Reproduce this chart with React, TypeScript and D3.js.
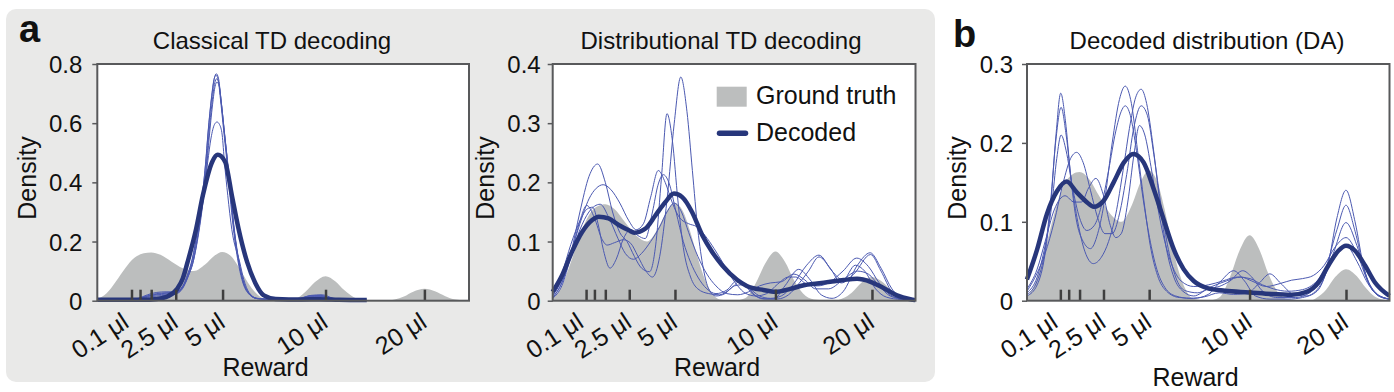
import React, { useRef, useEffect } from 'react'
import * as d3 from 'd3'

// reward sizes (μl) and where they sit on the decoder's utility axis (0-100)
const rewardTicks = [0.1, 0.3, 1.2, 2.5, 5, 10, 20]
const rewardUtility = [9.2, 11.5, 14.5, 21.1, 33.7, 61.4, 88.0]
const labelledRewards = [0.1, 2.5, 5, 10, 20]

const yTicksClassical = [0, 0.2, 0.4, 0.6, 0.8]
const yTicksDistributional = [0, 0.1, 0.2, 0.3, 0.4]
const yTicksDA = [0, 0.1, 0.2, 0.3]

// [utility, density]
const groundTruth = [
  [0, 0.005], [2.5, 0.025], [5, 0.065], [7.5, 0.11], [10, 0.145], [12.5, 0.16], [14.5, 0.163], [17, 0.155],
  [20, 0.132], [23, 0.11], [26, 0.1], [29, 0.122], [31.5, 0.152], [33.6, 0.165], [36, 0.15], [38, 0.115],
  [40, 0.072], [42, 0.035], [44, 0.012], [46, 0.002], [50, 0], [53, 0.004], [56, 0.03], [58.5, 0.062],
  [61.4, 0.083], [64, 0.066], [66.5, 0.035], [69, 0.012], [72, 0.002], [78, 0], [80, 0.004], [82.5, 0.014],
  [85, 0.03], [88, 0.04], [91, 0.031], [93.5, 0.016], [96, 0.005], [100, 0],
]

// classical TD decoding
const classicalMean = [
  [0, 0.003], [12, 0.003], [16, 0.006], [19, 0.015], [21.5, 0.04], [23, 0.075], [24.3, 0.131], [26.6, 0.243],
  [28.4, 0.356], [30.9, 0.469], [32.4, 0.493], [34.4, 0.469], [36.2, 0.356], [38, 0.243], [40.3, 0.131],
  [42.5, 0.06], [44.8, 0.018], [48, 0.006], [55, 0.004], [60, 0.005], [65, 0.003], [72.5, 0.002],
]
const classicalRun1 = [
  [0, 0.002], [8, 0.003], [11, 0.008], [13.5, 0.02], [16, 0.028], [18.5, 0.03], [21, 0.03], [23, 0.05],
  [24.3, 0.09], [25.5, 0.14], [27.1, 0.25], [28.3, 0.36], [29.2, 0.47], [29.9, 0.58], [30.8, 0.69], [31.5, 0.752],
  [32, 0.767], [32.6, 0.752], [33.2, 0.69], [34.1, 0.58], [35, 0.47], [35.8, 0.36], [36.7, 0.25], [38, 0.135],
  [39, 0.075], [40.5, 0.03], [43, 0.008], [48, 0.004], [54, 0.006], [57, 0.016], [60, 0.018], [63, 0.008],
  [67, 0.002], [72.5, 0.001],
]
const classicalRun2 = [
  [0, 0.002], [8, 0.003], [11, 0.007], [13.5, 0.017], [16, 0.024], [18.5, 0.027], [21, 0.028], [23, 0.048],
  [24.3, 0.085], [25.5, 0.135], [27, 0.24], [28.2, 0.35], [29.1, 0.46], [29.8, 0.57], [30.7, 0.685], [31.4, 0.748],
  [31.9, 0.762], [32.5, 0.748], [33.1, 0.685], [34, 0.575], [34.9, 0.465], [35.7, 0.355], [36.6, 0.245],
  [37.9, 0.13], [38.9, 0.072], [40.4, 0.028], [43, 0.007], [48, 0.004], [54, 0.007], [57.5, 0.018],
  [60.5, 0.02], [63.5, 0.008], [67, 0.002], [72.5, 0.001],
]
const classicalRun3 = [
  [0, 0.002], [8, 0.003], [11, 0.006], [13.5, 0.014], [16, 0.02], [18.5, 0.022], [21, 0.025], [23, 0.045],
  [24.3, 0.082], [25.6, 0.13], [27.2, 0.235], [28.4, 0.345], [29.3, 0.455], [30, 0.56], [30.9, 0.672],
  [31.6, 0.736], [32.1, 0.75], [32.7, 0.736], [33.3, 0.675], [34.2, 0.565], [35.1, 0.46], [35.9, 0.35],
  [36.8, 0.24], [38.1, 0.13], [39.1, 0.07], [40.6, 0.027], [43, 0.007], [48, 0.004], [54, 0.005],
  [57, 0.013], [60, 0.015], [63, 0.006], [67, 0.002], [72.5, 0.001],
]
const classicalRun4 = [
  [0, 0.002], [8, 0.003], [11, 0.005], [13.5, 0.011], [16, 0.016], [18.5, 0.018], [21, 0.022], [23, 0.042],
  [24.4, 0.08], [25.7, 0.128], [27.3, 0.23], [28.5, 0.34], [29.4, 0.448], [30.1, 0.55], [31, 0.662],
  [31.7, 0.725], [32.2, 0.739], [32.8, 0.725], [33.4, 0.665], [34.3, 0.558], [35.2, 0.452], [36, 0.345],
  [36.9, 0.238], [38.2, 0.128], [39.2, 0.07], [40.7, 0.027], [43, 0.007], [48, 0.004], [54, 0.005],
  [57.5, 0.012], [60.5, 0.014], [63.5, 0.006], [67, 0.002], [72.5, 0.001],
]
const classicalRun5 = [
  [0, 0.002], [8, 0.003], [11, 0.006], [13.5, 0.015], [16, 0.022], [18.5, 0.025], [21, 0.026], [23, 0.046],
  [24.5, 0.085], [25.8, 0.131], [27.2, 0.23], [28.6, 0.356], [29.7, 0.469], [30.6, 0.55], [31.5, 0.595],
  [32.2, 0.604], [32.9, 0.595], [33.6, 0.56], [34.2, 0.469], [35.1, 0.356], [36.2, 0.24], [38.3, 0.131],
  [39.4, 0.072], [40.8, 0.028], [43, 0.008], [48, 0.004], [54, 0.006], [57, 0.015], [60, 0.017],
  [63, 0.007], [67, 0.002], [72.5, 0.001],
]

// distributional TD decoding
const distributionalMean = [
  [0, 0.015], [2.6, 0.043], [5.3, 0.0825], [8.1, 0.116], [10.8, 0.136], [12.7, 0.142], [15.4, 0.139],
  [18.2, 0.128], [21, 0.119], [22.5, 0.115], [25.6, 0.122], [28.3, 0.144], [31.1, 0.167], [33.4, 0.181],
  [35.7, 0.175], [38.4, 0.15], [41.2, 0.111], [44, 0.082], [46.7, 0.06], [50.9, 0.035], [53.5, 0.025],
  [58.1, 0.018], [61.4, 0.015], [65.5, 0.02], [69.2, 0.026], [72.9, 0.029], [76.5, 0.032], [80.2, 0.035],
  [83.9, 0.037], [87.6, 0.032], [91.3, 0.021], [94.9, 0.009], [98.6, 0.0025], [100, 0.001],
]
const distributionalRun1 = [
  [0, 0.004], [2.5, 0.025], [5, 0.075], [7.5, 0.135], [9.4, 0.161], [11.5, 0.14], [13.5, 0.105], [15, 0.094],
  [17, 0.098], [19.5, 0.103], [21.5, 0.097], [23.5, 0.075], [25.5, 0.052], [27.5, 0.04], [29.5, 0.075],
  [31.5, 0.17], [33.5, 0.3], [35.3, 0.378], [37, 0.32], [38.5, 0.22], [40, 0.12], [41.5, 0.055], [43, 0.02],
  [45, 0.008], [47.5, 0.012], [50, 0.025], [52.5, 0.027], [55, 0.012], [58, 0.003], [61, 0.003], [64, 0.025],
  [67.8, 0.053], [71, 0.035], [74, 0.01], [77, 0.004], [80, 0.015], [84, 0.06], [87.5, 0.081], [90.5, 0.055],
  [93.5, 0.02], [96.5, 0.004], [100, 0.001],
]
const distributionalRun2 = [
  [0, 0.006], [2.5, 0.03], [5, 0.08], [7.5, 0.15], [10, 0.21], [12.4, 0.231], [14.5, 0.2], [16.5, 0.15],
  [18.5, 0.115], [20.5, 0.1], [22.5, 0.075], [24.5, 0.055], [26.7, 0.049], [28.5, 0.1], [30, 0.21],
  [31.5, 0.316], [33, 0.27], [34.5, 0.17], [36, 0.09], [38, 0.04], [40, 0.02], [43, 0.012], [46, 0.01],
  [49, 0.02], [51.5, 0.032], [54, 0.022], [57, 0.008], [60, 0.004], [63, 0.008], [66, 0.025], [70, 0.06],
  [73.4, 0.077], [77, 0.05], [80, 0.035], [83.4, 0.06], [86, 0.05], [89, 0.02], [92, 0.006], [96, 0.002],
  [100, 0.001],
]
const distributionalRun3 = [
  [0, 0.008], [2.5, 0.035], [5, 0.08], [7.5, 0.13], [10, 0.172], [12, 0.19], [13.9, 0.196], [16, 0.188],
  [18.5, 0.165], [21, 0.135], [23, 0.12], [25, 0.13], [27, 0.175], [29.1, 0.22], [31, 0.2], [33, 0.165],
  [35, 0.14], [37.5, 0.13], [39.7, 0.125], [42, 0.11], [44.5, 0.088], [46.8, 0.065], [49, 0.042], [51, 0.025],
  [53, 0.013], [56, 0.008], [59, 0.012], [62, 0.028], [65, 0.04], [67, 0.04], [70, 0.028], [73, 0.025],
  [76, 0.03], [80, 0.05], [83.8, 0.072], [87, 0.058], [90, 0.03], [93, 0.01], [97, 0.002], [100, 0.001],
]
const distributionalRun4 = [
  [0, 0.01], [2.5, 0.045], [5, 0.095], [7.5, 0.135], [9.5, 0.155], [11, 0.158], [12.5, 0.13], [14, 0.085],
  [15.8, 0.055], [17.5, 0.07], [19.5, 0.105], [21.5, 0.12], [23.5, 0.11], [25.5, 0.105], [27.5, 0.15],
  [29, 0.195], [30.5, 0.213], [32, 0.2], [34, 0.15], [36, 0.1], [38, 0.065], [40, 0.04], [42.5, 0.02],
  [45, 0.012], [48, 0.018], [51, 0.035], [53.5, 0.025], [56, 0.008], [59, 0.003], [62, 0.003], [65, 0.01],
  [68, 0.03], [70.5, 0.05], [73.4, 0.074], [76.5, 0.055], [79.5, 0.03], [83, 0.045], [87.6, 0.078],
  [90.5, 0.05], [93.5, 0.015], [97, 0.003], [100, 0.001],
]
const distributionalRun5 = [
  [0, 0.005], [2.5, 0.03], [5, 0.075], [7.5, 0.12], [10, 0.15], [13.1, 0.163], [15.5, 0.14], [18, 0.105],
  [20, 0.08], [22.3, 0.07], [24.5, 0.08], [27, 0.1], [29.5, 0.125], [31.5, 0.15], [33.5, 0.165], [35.5, 0.15],
  [37.5, 0.115], [40, 0.075], [42.5, 0.045], [45, 0.025], [48, 0.012], [51, 0.01], [54, 0.015], [57, 0.025],
  [60, 0.03], [63, 0.032], [66.5, 0.045], [69.5, 0.035], [72.5, 0.02], [76, 0.02], [80, 0.035], [84, 0.05],
  [87, 0.045], [90, 0.025], [93, 0.008], [97, 0.002], [100, 0.001],
]

// decoded from dopamine recordings
const daMean = [
  [0, 0.027], [2.8, 0.065], [5.5, 0.11], [8.3, 0.139], [10.9, 0.151], [13.8, 0.137], [16.6, 0.1245],
  [18.4, 0.119], [21.2, 0.127], [23.9, 0.15], [26.7, 0.175], [29.3, 0.186], [32.2, 0.175], [35, 0.141],
  [37.7, 0.103], [40.5, 0.065], [43.2, 0.04], [46, 0.025], [49.7, 0.016], [54.6, 0.0126], [61.3, 0.0105],
  [67.5, 0.0084], [73, 0.0075], [76.7, 0.0105], [80.4, 0.023], [83.1, 0.0443], [85.9, 0.0633], [88, 0.0696],
  [90.5, 0.0633], [93.3, 0.0443], [96, 0.023], [100, 0.006],
]
const daRun1 = [
  [0, 0.006], [2.8, 0.02], [5, 0.06], [6.5, 0.12], [8, 0.21], [9.3, 0.263], [10.6, 0.228], [12, 0.16],
  [13.5, 0.105], [15.5, 0.075], [17.5, 0.066], [19.5, 0.085], [21.5, 0.13], [23.5, 0.2], [25.5, 0.255],
  [27.1, 0.272], [28.8, 0.25], [30.5, 0.19], [32.3, 0.125], [34, 0.07], [36, 0.032], [38.5, 0.012], [42, 0.004],
  [46, 0.003], [50, 0.008], [53.5, 0.025], [57, 0.038], [60, 0.025], [63, 0.006], [67, 0.002], [72, 0.002],
  [76, 0.004], [80, 0.012], [83, 0.045], [85.5, 0.105], [88, 0.14], [90.5, 0.1], [93, 0.04], [96, 0.01],
  [100, 0.002],
]
const daRun2 = [
  [0, 0.008], [2.8, 0.025], [5, 0.065], [6.5, 0.125], [8, 0.205], [9.4, 0.245], [10.8, 0.21], [12.3, 0.15],
  [14, 0.1], [16, 0.062], [18.3, 0.047], [20.5, 0.055], [22.5, 0.075], [24.5, 0.11], [26.5, 0.165],
  [28.5, 0.225], [30, 0.258], [31.5, 0.268], [33, 0.25], [34.8, 0.195], [36.5, 0.13], [38.3, 0.07],
  [40.5, 0.03], [43, 0.012], [46, 0.006], [50, 0.015], [53, 0.018], [56, 0.025], [59.5, 0.038], [62, 0.03],
  [65, 0.012], [69, 0.004], [74, 0.004], [78, 0.01], [82, 0.035], [85.5, 0.09], [88, 0.121], [90.5, 0.088],
  [93, 0.04], [96, 0.01], [100, 0.002],
]
const daRun3 = [
  [0, 0.01], [2.8, 0.03], [5, 0.07], [6.8, 0.12], [8.2, 0.18], [9.4, 0.21], [10.8, 0.19], [12.5, 0.145],
  [14.5, 0.105], [16.5, 0.089], [18.5, 0.095], [20.5, 0.12], [22.5, 0.165], [24.5, 0.215], [26, 0.24],
  [27.1, 0.247], [28.5, 0.235], [30.2, 0.19], [32, 0.13], [33.8, 0.08], [35.8, 0.04], [38, 0.017], [41, 0.006],
  [45, 0.003], [49, 0.005], [53, 0.01], [57, 0.008], [61, 0.01], [64, 0.022], [67, 0.034], [70, 0.022],
  [73.5, 0.008], [77, 0.006], [81, 0.02], [84.5, 0.06], [88, 0.099], [91, 0.07], [94, 0.025], [97, 0.006],
  [100, 0.002],
]
const daRun4 = [
  [0, 0.012], [2.8, 0.035], [5, 0.06], [7.5, 0.1], [10, 0.15], [12, 0.18], [13.7, 0.188], [15.5, 0.175],
  [17.5, 0.14], [19.5, 0.105], [21.5, 0.085], [23.5, 0.085], [25.5, 0.11], [27.5, 0.16], [29.5, 0.22],
  [31.5, 0.247], [33.2, 0.235], [35, 0.185], [37, 0.12], [39, 0.065], [41, 0.03], [43.5, 0.013], [47, 0.01],
  [51, 0.018], [55, 0.025], [59, 0.03], [62, 0.025], [66, 0.018], [70, 0.022], [73, 0.026], [76, 0.028],
  [79, 0.032], [82, 0.045], [85, 0.068], [88, 0.08], [91, 0.06], [94, 0.025], [97, 0.007], [100, 0.002],
]
const daRun5 = [
  [0, 0.015], [2.8, 0.04], [5, 0.075], [7.5, 0.115], [10.5, 0.133], [13, 0.125], [15, 0.125], [17, 0.143],
  [19, 0.155], [21, 0.135], [23, 0.095], [24.5, 0.08], [26, 0.085], [27.8, 0.125], [29.5, 0.185], [31, 0.222],
  [32.5, 0.21], [34.2, 0.17], [36, 0.12], [38, 0.075], [40, 0.045], [42.5, 0.025], [46, 0.018], [50, 0.02],
  [54, 0.025], [58, 0.03], [61.5, 0.028], [65, 0.02], [68, 0.015], [72, 0.012], [76, 0.014], [80, 0.025],
  [84, 0.052], [88, 0.07], [91, 0.05], [94, 0.022], [97, 0.006], [100, 0.002],
]

const FONT = '"Liberation Sans", Arial, Helvetica, sans-serif'
const GT_FILL = '#bcbebe'
const THIN = '#4b59b1'
const THICK = '#27367b'
const FRAME = '#58595b'

const panels = [
  {
    title: 'Classical TD decoding', titleX: 272, left: 97.3, right: 469, yMax: 0.8, yTicks: yTicksClassical,
    densityX: 35.5, rewardX: 265.5, rewardY: 376, tickPad: 10,
    runs: [classicalRun1, classicalRun2, classicalRun3, classicalRun4, classicalRun5], mean: classicalMean,
  },
  {
    title: 'Distributional TD decoding', titleX: 721, left: 552.7, right: 915.5, yMax: 0.4, yTicks: yTicksDistributional,
    densityX: 494, rewardX: 717, rewardY: 376, tickPad: 7,
    runs: [distributionalRun1, distributionalRun2, distributionalRun3, distributionalRun4, distributionalRun5],
    mean: distributionalMean,
  },
  {
    title: 'Decoded distribution (DA)', titleX: 1207, left: 1027, right: 1389.5, yMax: 0.3, yTicks: yTicksDA,
    densityX: 965.5, rewardX: 1195.5, rewardY: 386, tickPad: 9,
    runs: [daRun1, daRun2, daRun3, daRun4, daRun5], mean: daMean,
  },
]

export default function App() {
  const svgRef = useRef<SVGSVGElement>(null)

  useEffect(() => {
    const svg = d3.select(svgRef.current)
    svg.selectAll('*').remove()

    svg.append('rect')
      .attr('x', 6).attr('y', 9).attr('width', 929).attr('height', 373).attr('rx', 10)
      .attr('fill', '#e9e9e8')

    const top = 64
    const bottom = 300.7

    panels.forEach(p => {
      const g = svg.append('g')
      const x = d3.scaleLinear().domain([0, 100]).range([p.left, p.right])
      const y = d3.scaleLinear().domain([0, p.yMax]).range([bottom, top])

      g.append('rect')
        .attr('x', p.left).attr('y', top).attr('width', p.right - p.left).attr('height', bottom - top)
        .attr('fill', '#fff')

      const area = d3.area<number[]>()
        .x(d => x(d[0])).y0(y(0)).y1(d => y(d[1]))
        .curve(d3.curveMonotoneX)
      g.append('path').datum(groundTruth).attr('d', area).attr('fill', GT_FILL)

      const line = d3.line<number[]>()
        .x(d => x(d[0])).y(d => y(d[1]))
        .curve(d3.curveMonotoneX)

      g.selectAll('.run')
        .data(p.runs)
        .join('path')
        .attr('class', 'run')
        .attr('d', line)
        .attr('fill', 'none')
        .attr('stroke', THIN)
        .attr('stroke-width', 1)

      g.append('path').datum(p.mean)
        .attr('d', line)
        .attr('fill', 'none')
        .attr('stroke', THICK)
        .attr('stroke-width', 4.5)
        .attr('stroke-linejoin', 'round')

      // reward ticks point inward from the bottom edge
      const xAxis = d3.axisBottom(x).tickValues(rewardUtility).tickSize(-11).tickFormat(() => '')
      const xg = g.append('g').attr('transform', `translate(0,${bottom})`).call(xAxis)
      xg.select('.domain').remove()
      xg.selectAll('line').attr('stroke', '#3f3f3f').attr('stroke-width', 2.5)

      g.append('rect')
        .attr('x', p.left).attr('y', top).attr('width', p.right - p.left).attr('height', bottom - top)
        .attr('fill', 'none').attr('stroke', FRAME).attr('stroke-width', 2)

      const yAxis = d3.axisLeft(y).tickValues(p.yTicks).tickSize(5).tickPadding(p.tickPad).tickFormat(d => String(d))
      const yg = g.append('g').attr('transform', `translate(${p.left},0)`).call(yAxis)
      yg.select('.domain').remove()
      yg.selectAll('line').attr('stroke', FRAME).attr('stroke-width', 1.5)
      yg.selectAll('text')
        .attr('font-family', FONT).attr('font-size', 24).attr('fill', '#111').attr('dy', '0.36em')
      yg.attr('font-family', null).attr('font-size', null)

      // the first label sits a little left of its tick so it clears "2.5 μl"
      g.selectAll('.xlab')
        .data(labelledRewards)
        .join('text')
        .attr('class', 'xlab')
        .attr('transform', r => {
          const tx = x(rewardUtility[rewardTicks.indexOf(r)]) + (r === 0.1 ? -1 : 4)
          return `translate(${tx},326) rotate(-33)`
        })
        .attr('text-anchor', 'end')
        .attr('font-family', FONT).attr('font-size', 25).attr('fill', '#111')
        .text(r => `${r} μl`)

      g.append('text')
        .attr('x', p.titleX).attr('y', 49)
        .attr('text-anchor', 'middle')
        .attr('font-family', FONT).attr('font-size', 24).attr('fill', '#111')
        .text(p.title)

      g.append('text')
        .attr('transform', `translate(${p.densityX},178) rotate(-90)`)
        .attr('text-anchor', 'middle')
        .attr('font-family', FONT).attr('font-size', 25).attr('fill', '#111')
        .text('Density')

      g.append('text')
        .attr('x', p.rewardX).attr('y', p.rewardY)
        .attr('text-anchor', 'middle')
        .attr('font-family', FONT).attr('font-size', 25).attr('fill', '#111')
        .text('Reward')
    })

    // legend (distributional panel)
    const legend = svg.append('g')
    legend.append('rect').attr('x', 716.7).attr('y', 86.7).attr('width', 30).attr('height', 20).attr('fill', GT_FILL)
    legend.append('text').attr('x', 756).attr('y', 103.5)
      .attr('font-family', FONT).attr('font-size', 25).attr('fill', '#111').text('Ground truth')
    legend.append('line').attr('x1', 719.5).attr('x2', 745.5).attr('y1', 133.3).attr('y2', 133.3)
      .attr('stroke', THICK).attr('stroke-width', 5.5).attr('stroke-linecap', 'round')
    legend.append('text').attr('x', 756).attr('y', 141)
      .attr('font-family', FONT).attr('font-size', 25).attr('fill', '#111').text('Decoded')

    svg.append('text').attr('x', 19).attr('y', 42)
      .attr('font-family', FONT).attr('font-size', 38).attr('font-weight', 'bold').attr('fill', '#111').text('a')
    svg.append('text').attr('x', 953).attr('y', 47)
      .attr('font-family', FONT).attr('font-size', 38).attr('font-weight', 'bold').attr('fill', '#111').text('b')
  }, [])

  return (
    <svg ref={svgRef} width={1394} height={392}
      style={{ position: 'absolute', left: 0, top: 0, background: '#fff' }} />
  )
}
